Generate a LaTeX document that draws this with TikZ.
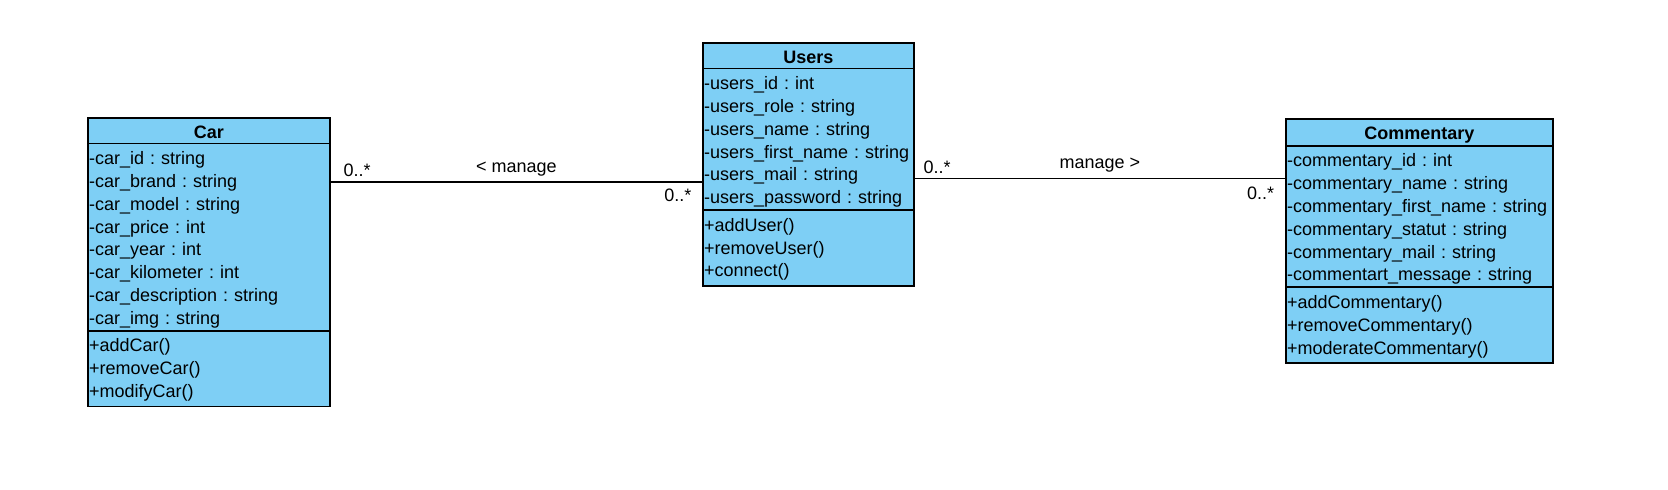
\documentclass[tikz,border=0pt]{standalone}
\usepackage{fontspec}
\setmainfont{Liberation Sans}
\usetikzlibrary{shapes.multipart}
\definecolor{ClassBlue}{RGB}{126,207,245}
\newcommand{\rowstrut}{\rule[-2pt]{0pt}{11.4pt}}
\newcommand{\headstrut}{\rule[-1.25pt]{0pt}{10.5pt}}
\newcommand{\tailstrut}{\rule[-3.4pt]{0pt}{3.4pt}}
\tikzset{
  umlclass/.style = {draw, line width=0.85pt, fill=ClassBlue,
                     rectangle split, rectangle split parts=3,
                     inner xsep=0.6pt, inner ysep=0.75pt, anchor=north west,
                     align=left, font=\fontsize{9}{11.4}\selectfont\frenchspacing},
  assoc/.style    = {line width=0.85pt},
  mult/.style     = {inner sep=0pt, font=\fontsize{9}{11.4}\selectfont}
}

\begin{document}
\begin{tikzpicture}[x=1pt, y=1pt]
\useasboundingbox (0,0) rectangle (834,-244.5);
% classes
\node[umlclass, text width=119.8pt] (car) at (43.5,-58.5) {\centerline{\headstrut\textbf{Car}}
  \nodepart{two}\rowstrut-car\_id : string\\
  \rowstrut-car\_brand : string\\
  \rowstrut-car\_model : string\\
  \rowstrut-car\_price : int\\
  \rowstrut-car\_year : int\\
  \rowstrut-car\_kilometer : int\\
  \rowstrut-car\_description : string\\
  \rowstrut-car\_img : string
  \nodepart{three}\rowstrut+addCar()\\
  \rowstrut+removeCar()\\
  \rowstrut+modifyCar()\tailstrut};
\node[umlclass, text width=104.3pt] (users) at (351,-21) {\centerline{\headstrut\textbf{Users}}
  \nodepart{two}\rowstrut-users\_id : int\\
  \rowstrut-users\_role : string\\
  \rowstrut-users\_name : string\\
  \rowstrut-users\_first\_name : string\\
  \rowstrut-users\_mail : string\\
  \rowstrut-users\_password : string
  \nodepart{three}\rowstrut+addUser()\\
  \rowstrut+removeUser()\\
  \rowstrut+connect()\tailstrut};
\node[umlclass, text width=132.3pt] (comm) at (642.5,-59) {\centerline{\headstrut\textbf{Commentary}}
  \nodepart{two}\rowstrut-commentary\_id : int\\
  \rowstrut-commentary\_name : string\\
  \rowstrut-commentary\_first\_name : string\\
  \rowstrut-commentary\_statut : string\\
  \rowstrut-commentary\_mail : string\\
  \rowstrut-commentart\_message : string
  \nodepart{three}\rowstrut+addCommentary()\\
  \rowstrut+removeCommentary()\\
  \rowstrut+moderateCommentary()\tailstrut};
% associations
\draw[assoc] (car.east |- 0,-91) --
  node[mult, pos=0, anchor=base west, shift={(6,2.85)}] (carmult) {0..*}
  node[mult, midway, anchor=base, yshift=5pt] (leftrole) {< manage}
  node[mult, pos=1, anchor=base east, shift={(-4.9,-9.5)}] (usersmultl) {0..*}
  (users.west |- 0,-91);
\draw[assoc] (users.east |- 0,-89.25) --
  node[mult, pos=0, anchor=base west, shift={(4,2.5)}] (usersmultr) {0..*}
  node[mult, midway, anchor=base, yshift=5pt] (rightrole) {manage >}
  node[mult, pos=1, anchor=base east, shift={(-5,-10.35)}] (commmult) {0..*}
  (comm.west |- 0,-89.25);
\end{tikzpicture}
\end{document}
